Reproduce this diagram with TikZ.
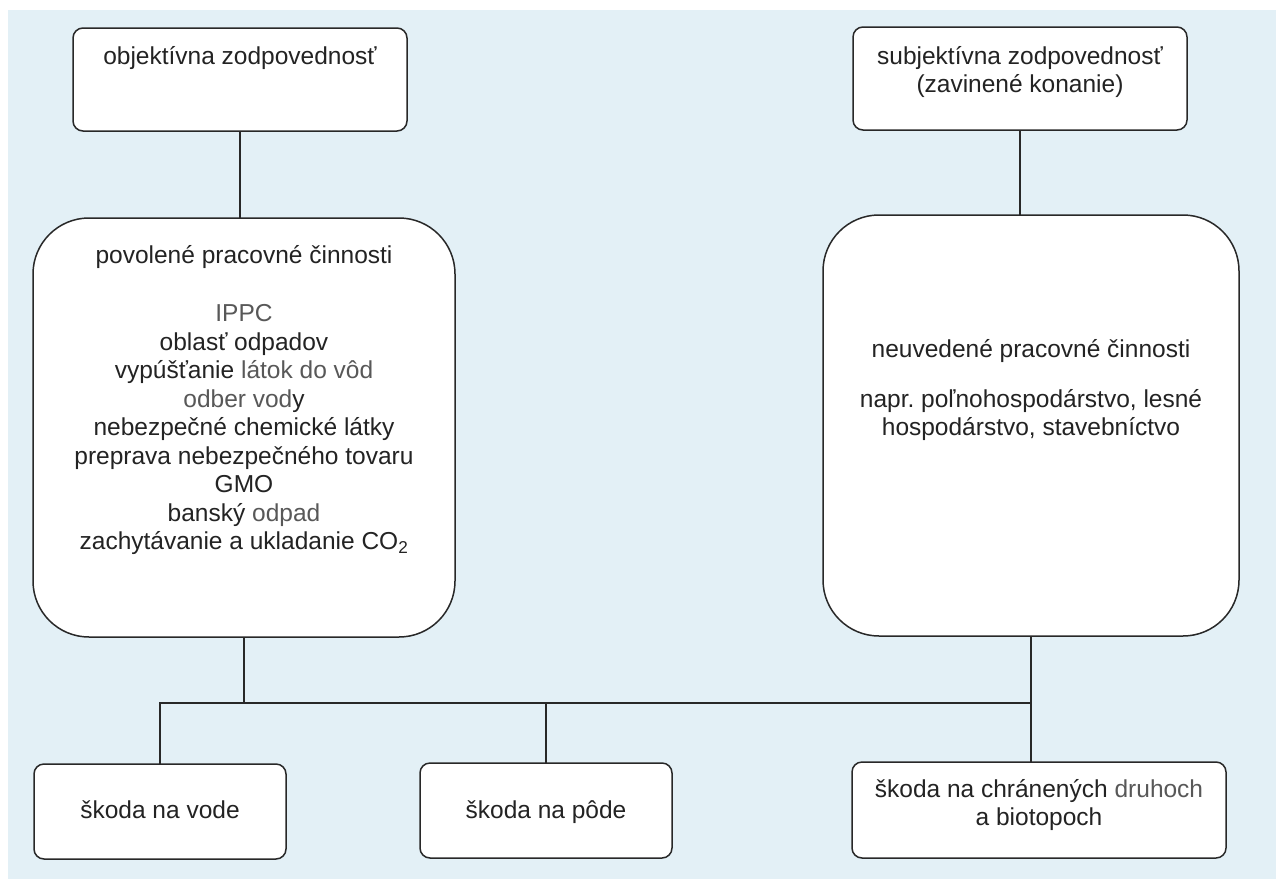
\documentclass[tikz,border=0pt]{standalone}
\usepackage{fontspec}
\setmainfont{Liberation Sans}
\definecolor{bgblue}{RGB}{227,240,246}
\definecolor{frame}{RGB}{40,40,40}
\definecolor{txt}{RGB}{35,35,35}
\definecolor{txtl}{RGB}{88,88,88}
\newcommand{\lt}[1]{\textcolor{txtl}{#1}}
\begin{document}
\begin{tikzpicture}[x=1pt,y=-1pt,
  box/.style={draw=frame, fill=white, line width=1.5pt, rounded corners=10pt,
    inner sep=0pt, outer sep=0pt, anchor=north west},
  bigbox/.style={box, rounded corners=56pt},
  lbl/.style={font=\fontsize{24.5}{28.5}\selectfont, text=txt, anchor=base, inner sep=0pt},
  wire/.style={draw=frame, line width=1.5pt}]
\useasboundingbox (0,0) rectangle (1276,881);
\fill[white] (0,0) rectangle (1276,881);
\fill[bgblue] (8,10) rectangle (1276,879);

% boxes
\node[box, minimum width=334, minimum height=103] (b1) at (73,28) {};
\node[box, minimum width=334, minimum height=103] (b3) at (853,27) {};
\node[bigbox, minimum width=422, minimum height=419] (b2) at (33,218) {};
\node[bigbox, minimum width=416, minimum height=421] (b4) at (823,215) {};
\node[box, minimum width=252, minimum height=95] (b5) at (34,764) {};
\node[box, minimum width=252, minimum height=95] (b6) at (420,763) {};
\node[box, minimum width=374, minimum height=96] (b7) at (852,762) {};

% connectors
\coordinate (bus) at (0,703);
\draw[wire] (b1.south) -- (b1.south |- b2.north);
\draw[wire] (b3.south) -- (b3.south |- b4.north);
\draw[wire] (b2.south) -- (b2.south |- bus);
\draw[wire] (b5.north) -- (b5.north |- bus) -- (b4.south |- bus);
\draw[wire] (b6.north) -- (b6.north |- bus);
\draw[wire] (b4.south) -- (b7.north -| b4.south);

% texts
\node[lbl] (t1) at (240,64) {objektívna zodpovednosť};
\node[lbl] (t3a) at (1020,64) {subjektívna zodpovednosť};
\node[lbl] (t3b) at (1020,92.5) {(zavinené konanie)};

\node[lbl] (t2a) at (244,263) {povolené pracovné činnosti};
\node[lbl] (t2b) at (244,321.5) {\lt{IPPC}};
\node[lbl] (t2c) at (244,350) {oblasť odpadov};
\node[lbl] (t2d) at (244,378.5) {vypúšťanie \lt{látok do vôd}};
\node[lbl] (t2e) at (244,407) {\lt{odber vod}y};
\node[lbl] (t2f) at (244,435.5) {nebezpečné chemické látky};
\node[lbl] (t2g) at (244,464) {preprava nebezpečného tovaru};
\node[lbl] (t2h) at (244,492.5) {GMO};
\node[lbl] (t2i) at (244,521) {banský \lt{odpad}};
\node[lbl] (t2j) at (244,549.5) {zachytávanie a ukladanie CO\textsubscript{2}};

\node[lbl] (t4a) at (1031,357) {neuvedené pracovné činnosti};
\node[lbl] (t4b) at (1031,407) {napr.\ poľnohospodárstvo, lesné};
\node[lbl] (t4c) at (1031,435.5) {hospodárstvo, stavebníctvo};

\node[lbl] (t5) at (160,818) {škoda na vode};
\node[lbl] (t6) at (546,818) {škoda na pôde};
\node[lbl] (t7a) at (1039,797) {škoda na chránených \lt{druhoch}};
\node[lbl] (t7b) at (1039,825.5) {a biotopoch};
\end{tikzpicture}
\end{document}
